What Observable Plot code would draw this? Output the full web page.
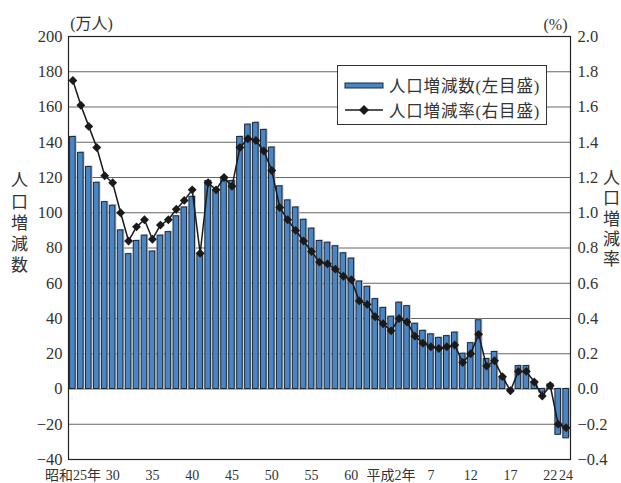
<!DOCTYPE html>
<html>
<head>
<meta charset="utf-8">
<script src="https://cdn.jsdelivr.net/npm/d3@7"></script>
<script src="https://cdn.jsdelivr.net/npm/@observablehq/plot@0.6"></script>
<style>
  body { margin: 0; background: #fff; }
  #wrap { position: relative; width: 621px; height: 483px; }
  #legend {
    position: absolute; left: 337px; top: 65px; width: 208px; height: 58px;
    background: #fff; border: 1.5px solid #333;
    font-family: "Liberation Serif", "Noto Sans CJK JP", serif; font-size: 16.5px; color: #333;
    letter-spacing: 0.8px;
  }
  .row { position: absolute; left: 0; display: flex; align-items: center; height: 22px; }
  .row span { margin-left: 5px; }
</style>
</head>
<body>
<div id="wrap"></div>
<script>
const years = [1950,1951,1952,1953,1954,1955,1956,1957,1958,1959,1960,1961,1962,1963,1964,1965,1966,1967,1968,1969,
  1970,1971,1972,1973,1974,1975,1976,1977,1978,1979,1980,1981,1982,1983,1984,1985,1986,1987,1988,1989,
  1990,1991,1992,1993,1994,1995,1996,1997,1998,1999,2000,2001,2002,2003,2004,2005,2006,2007,2008,2009,
  2010,2011,2012];
// 人口増減数（万人）
const change = [143,134,126,117,106,104,90,76.5,84,87,78,87,89,98,103,109,76,118,113,120,
  118,143,150,151,147,137,115,107,103,96,91,84,83,81,77,74,61,58,51,46,
  41,49,47,37,33,31,29,30,32,20,26,39,17,21,6.5,-1,13,13,4,-2,
  2.6,-26,-28];
// 人口増減率（%）
const rate = [1.75,1.61,1.49,1.37,1.21,1.17,1.00,0.84,0.92,0.96,0.85,0.93,0.96,1.02,1.07,1.13,0.77,1.17,1.13,1.20,
  1.15,1.37,1.42,1.41,1.35,1.24,1.03,0.96,0.90,0.84,0.78,0.72,0.71,0.68,0.64,0.62,0.50,0.48,0.41,0.37,
  0.33,0.40,0.38,0.30,0.26,0.24,0.23,0.24,0.25,0.15,0.20,0.31,0.13,0.16,0.07,-0.01,0.10,0.10,0.04,-0.04,
  0.02,-0.20,-0.22];
const tickYears = [1950,1955,1960,1965,1970,1975,1980,1985,1990,1995,2000,2005,2010,2012];
const tickLabels = ["昭和25年","30","35","40","45","50","55","60","平成2年","7","12","17","22","24"];
const yTicks = [-40,-20,0,20,40,60,80,100,120,140,160,180,200];

const rows = years.map((y, i) => ({year: y, change: change[i], rate: rate[i]}));
const labelOf = new Map(tickYears.map((y, i) => [y, tickLabels[i]]));

const chart = Plot.plot({
  width: 621, height: 483,
  marginTop: 36, marginBottom: 24, marginLeft: 68, marginRight: 51,
  style: {fontFamily: '"Liberation Serif", "Noto Sans CJK JP", serif', fontSize: "16px", color: "#333", background: "#fff"},
  x: {type: "band", domain: years, paddingInner: 0.3, paddingOuter: 0.2},
  y: {domain: [-40, 200]},
  marks: [
    Plot.gridY(yTicks, {stroke: "#666", strokeOpacity: 1, strokeWidth: 1}),
    Plot.barY(rows, {x: "year", y: "change", fill: "#c4c4c4", dx: 1.5, dy: -1}),
    Plot.barY(rows, {x: "year", y: "change", fill: "#4886c6", stroke: "#1c2838", strokeWidth: 1}),
    Plot.line(rows, {x: "year", y: d => d.rate * 100, stroke: "#1a1a1a", strokeWidth: 1.5}),
    Plot.dot(rows, {x: "year", y: d => d.rate * 100, symbol: "diamond2", r: 4, fill: "#1a1a1a", stroke: "none"}),
    Plot.axisY(yTicks, {anchor: "left", tickSize: 0, tickPadding: 6, fontSize: 16.5, label: null}),
    Plot.axisY(yTicks, {anchor: "right", tickSize: 0, tickPadding: 7, fontSize: 16.5, label: null,
      tickFormat: d => (d / 100).toFixed(1).replace("-", "−")}),
    Plot.axisX(tickYears, {anchor: "bottom", tickSize: 0, tickPadding: 11, fontSize: 14, label: null,
      tickFormat: d => labelOf.get(d)}),
    Plot.frame({stroke: "#222", strokeWidth: 1.2}),
    Plot.text(["(万人)"], {frameAnchor: "top-left", dx: 23, dy: -19, fontSize: 16, textAnchor: "middle"}),
    Plot.text(["(%)"], {frameAnchor: "top-right", dx: -15, dy: -18, fontSize: 16, textAnchor: "middle"}),
    Plot.text(["人\n口\n増\n減\n数"], {frameAnchor: "left", dx: -49, dy: -26, fontSize: 17, lineHeight: 1.25, textAnchor: "middle"}),
    Plot.text(["人\n口\n増\n減\n率"], {frameAnchor: "right", dx: 41, dy: -30, fontSize: 17, lineHeight: 1.2, textAnchor: "middle"})
  ]
});
const wrap = document.getElementById("wrap");
wrap.appendChild(chart);

const legendItems = ["人口増減数(左目盛)", "人口増減率(右目盛)"];
const lg = document.createElement("div");
lg.id = "legend";
lg.innerHTML = `
  <div class="row" style="top:8px">
    <svg width="46" height="22"><rect x="7" y="9" width="38" height="5" fill="#4886c6" stroke="#1c2838" stroke-width="1"/></svg>
    <span>${legendItems[0]}</span>
  </div>
  <div class="row" style="top:33px">
    <svg width="46" height="22"><line x1="7" x2="45" y1="11" y2="11" stroke="#1a1a1a" stroke-width="1.5"/>
      <path d="M26 6 L31 11 L26 16 L21 11 Z" fill="#1a1a1a"/></svg>
    <span>${legendItems[1]}</span>
  </div>`;
wrap.appendChild(lg);
</script>
</body>
</html>
